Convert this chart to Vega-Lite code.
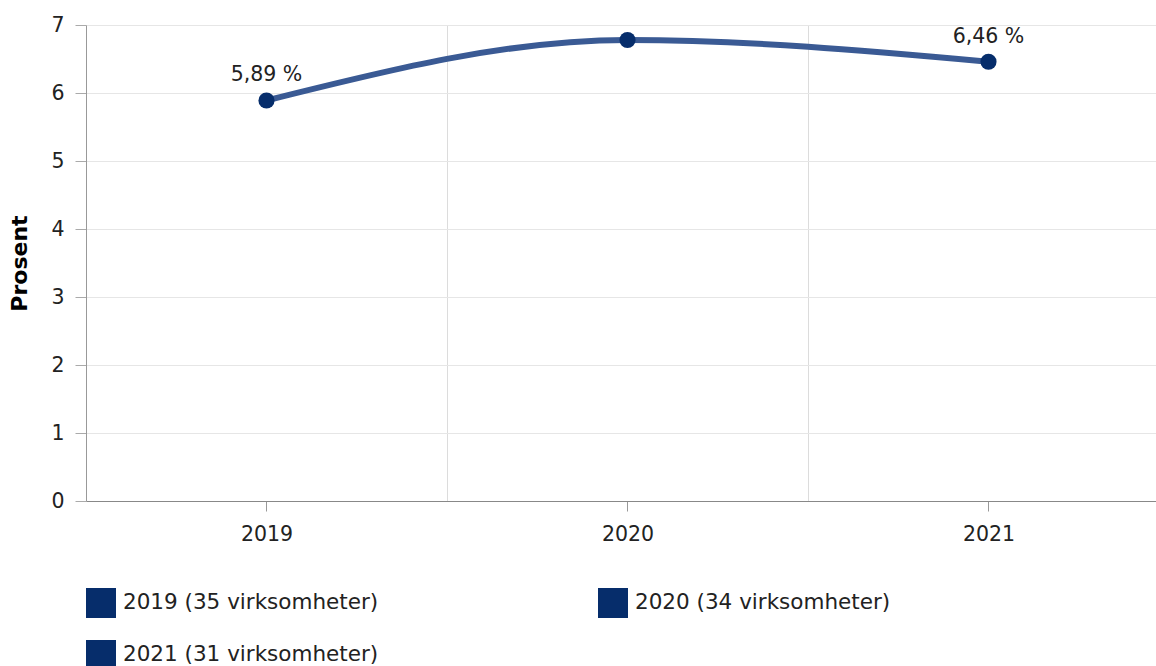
{
  "$schema": "https://vega.github.io/schema/vega-lite/v6.json",
  "width": 1070,
  "height": 476,
  "autosize": "none",
  "padding": {"left": 86, "top": 25, "right": 0, "bottom": 165},
  "background": "white",
  "config": {"view": {"stroke": null}, "font": "DejaVu Sans"},
  "data": {"values": [
    {"year": 2019, "value": 5.89, "label": "5,89 %", "legend": "2019 (35 virksomheter)"},
    {"year": 2020, "value": 6.78, "label": "", "legend": "2020 (34 virksomheter)"},
    {"year": 2021, "value": 6.46, "label": "6,46 %", "legend": "2021 (31 virksomheter)"}
  ]},
  "encoding": {
    "x": {
      "field": "year", "type": "quantitative",
      "scale": {"domain": [2018.5, 2021.464], "nice": false, "zero": false},
      "axis": {
        "title": null,
        "values": [2019, 2019.5, 2020, 2020.5, 2021],
        "labelExpr": "datum.value % 1 == 0 ? datum.value : ''",
        "grid": true,
        "gridColor": "#dcdcdc",
        "gridOpacity": {"condition": {"test": "datum.value % 1 == 0", "value": 0}, "value": 1},
        "tickOpacity": {"condition": {"test": "datum.value % 1 != 0", "value": 0}, "value": 1},
        "tickSize": 10,
        "tickColor": "#999999",
        "domainColor": "#888888",
        "labelFontSize": 20.5,
        "labelColor": "#222222",
        "labelPadding": 13,
        "labelFlush": false,
        "labelOverlap": false
      }
    },
    "y": {
      "field": "value", "type": "quantitative",
      "scale": {"domain": [0, 7], "nice": false},
      "axis": {
        "title": "Prosent",
        "titleFontSize": 22,
        "titleFontWeight": "bold",
        "titleColor": "#000000",
        "titlePadding": 19,
        "values": [0, 1, 2, 3, 4, 5, 6, 7],
        "grid": true,
        "gridColor": "#e6e6e6",
        "tickSize": 11,
        "tickColor": "#aaaaaa",
        "domainColor": "#999999",
        "labelFontSize": 20.5,
        "labelColor": "#222222",
        "labelPadding": 11
      }
    }
  },
  "layer": [
    {"mark": {"type": "line", "interpolate": "monotone", "color": "#3a5a94", "strokeWidth": 6}},
    {
      "mark": {"type": "circle", "size": 260, "opacity": 1},
      "encoding": {
        "color": {
          "field": "legend", "type": "nominal",
          "scale": {"range": ["#062d6b", "#062d6b", "#062d6b"]},
          "legend": {
            "orient": "none",
            "legendX": 0,
            "legendY": 563,
            "direction": "horizontal",
            "columns": 2,
            "symbolType": "square",
            "symbolSize": 900,
            "symbolOpacity": 1,
            "symbolStrokeWidth": 0,
            "labelFontSize": 21.5,
            "labelColor": "#222222",
            "labelLimit": 400,
            "title": null,
            "columnPadding": 219,
            "rowPadding": 22,
            "labelOffset": 7,
            "padding": 0
          }
        }
      }
    },
    {
      "mark": {"type": "text", "dy": -19, "fontSize": 20.5, "color": "#222222", "baseline": "alphabetic"},
      "encoding": {"text": {"field": "label"}}
    }
  ]
}
